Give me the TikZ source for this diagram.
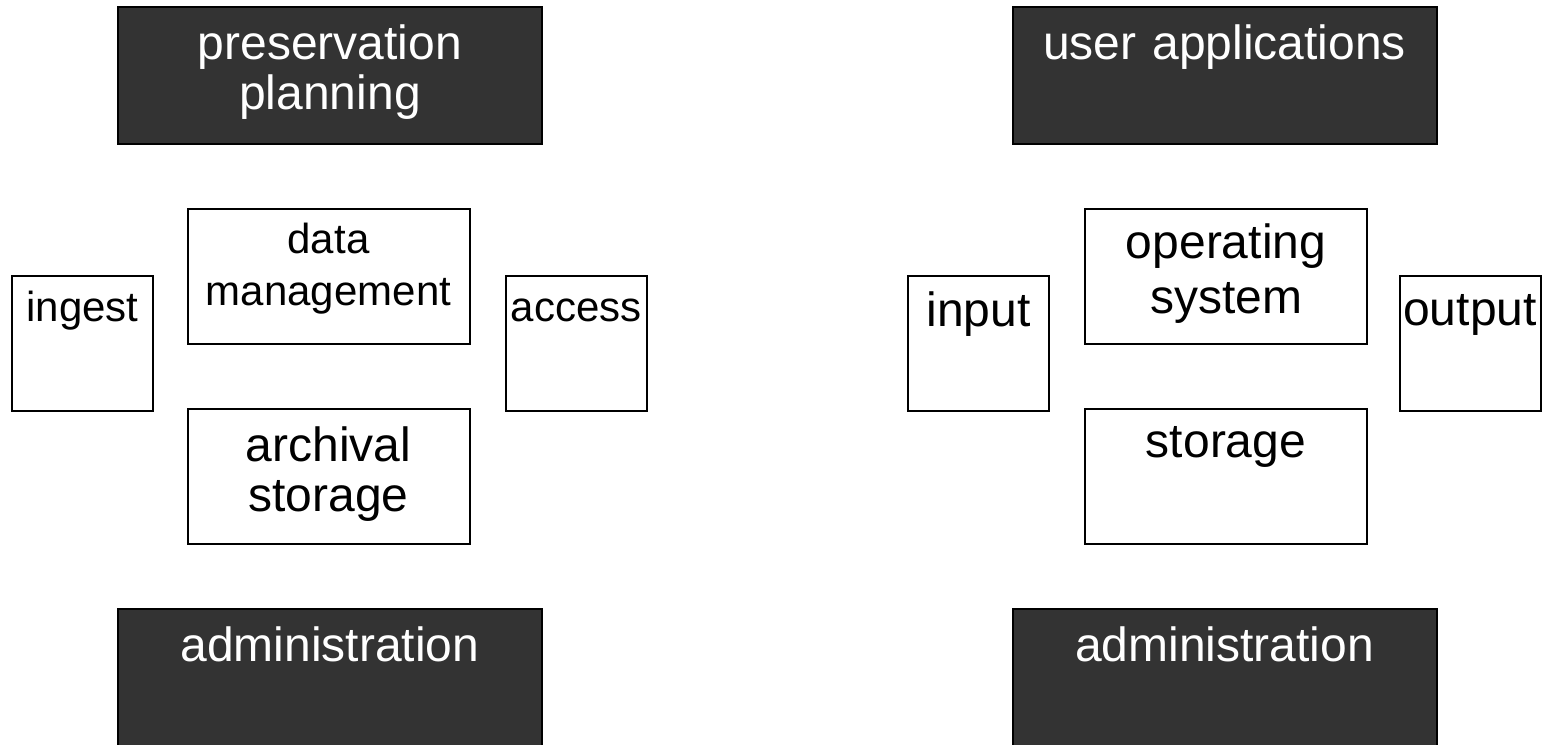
\documentclass[tikz,border=0pt]{standalone}
\usepackage{fontspec}
\setmainfont{Liberation Sans}
\usepackage{tikz}
\definecolor{boxgrey}{HTML}{333333}

\tikzset{
  toptext/.style={anchor=base, inner sep=0pt, text width=210pt, align=center},
  bigtext/.style={toptext, yshift=-26.5pt, font=\fontsize{24pt}{25pt}\selectfont},
  smalltext/.style={toptext, yshift=-23pt, font=\fontsize{21pt}{26pt}\selectfont},
  darkbox/.style={draw=black, line width=1pt, fill=boxgrey,
                  minimum width=212pt, minimum height=68.5pt, inner sep=0pt},
  midbox/.style={draw=black, line width=1pt,
                 minimum width=141pt, minimum height=67.5pt, inner sep=0pt},
  sidebox/.style={draw=black, line width=1pt,
                  minimum width=70.5pt, minimum height=67.5pt, inner sep=0pt}
}

\begin{document}
\begin{tikzpicture}[x=0.5pt, y=-0.5pt]
  \useasboundingbox (0,0) rectangle (1545,744);
  % archive side
  \node[darkbox, label={[bigtext, text=white]north:{preservation\\planning}}]
       (plan) at (330,75.5) {};
  \node[midbox, label={[smalltext]north:{data\\management}}] (datamgmt) at (328.5,276) {};
  \node[midbox, label={[bigtext]north:{archival\\storage}}] (archstore) at (328.5,476.5) {};
  \node[sidebox, label={[smalltext]north:{ingest}}] (ingest) at (82.5,343.5) {};
  \node[sidebox, label={[smalltext]north:{access}}] (access) at (576,343.5) {};
  % computer side
  \node[darkbox, label={[bigtext, text=white]north:{user applications}}]
       (userapps) at (1224.5,75.5) {};
  \node[midbox, label={[bigtext, yshift=1pt]north:{operating\\[2.5pt]system}}] (opsys) at (1226,276) {};
  \node[midbox, label={[bigtext, yshift=2pt]north:{storage}}] (store) at (1226,476.5) {};
  \node[sidebox, label={[bigtext, yshift=1pt]north:{input}}] (input) at (978.5,343.5) {};
  \node[sidebox, label={[bigtext, yshift=1.5pt]north:{output}}] (output) at (1470,343.5) {};
  % both sides
  \foreach \side/\cx in {L/330, R/1224.5} {
    \node[darkbox, label={[bigtext, text=white]north:{administration}}]
         (admin\side) at (\cx,677.5) {};
  }
\end{tikzpicture}
\end{document}
